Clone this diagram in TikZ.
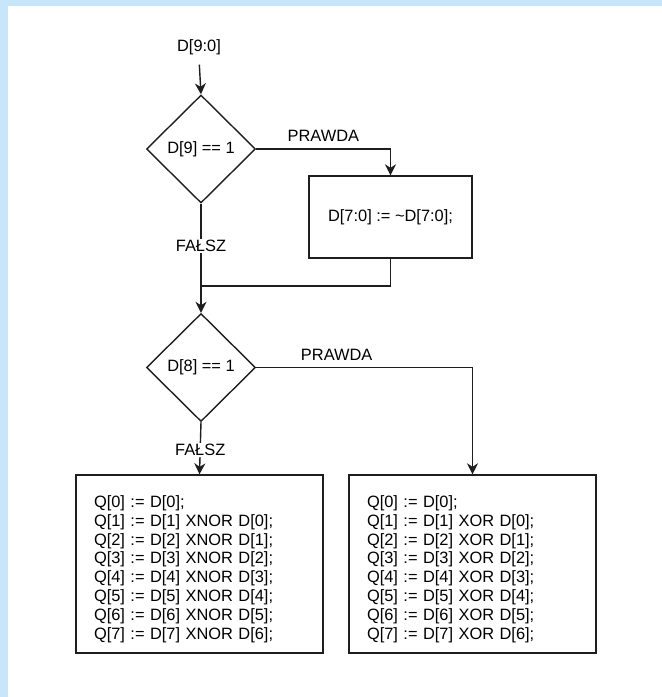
\documentclass[tikz,border=0pt]{standalone}
\usepackage{fontspec}
\setmainfont{Liberation Sans}
\usetikzlibrary{shapes.geometric, arrows.meta, positioning}
\usepackage{xcolor}
\definecolor{frameblue}{RGB}{200,230,249}
\definecolor{ink}{RGB}{30,30,30}

\begin{document}
\begin{tikzpicture}[x=1pt, y=1pt, >={Stealth[length=11pt, width=11pt, inset=3.5pt]},
    line width=1.4pt, font=\fontsize{16.4}{18.8}\selectfont,
    decision/.style={diamond, draw=ink, aspect=1, inner sep=0pt, minimum width=109pt, minimum height=108pt},
    process/.style={rectangle, draw=ink, align=left},
    flow/.style={->, draw=ink},
    branch/.style={inner sep=1pt, fill=white}]
    % background frame
    \useasboundingbox (0,0) rectangle (662,-697);
    \fill[frameblue] (0,0) rectangle (662,-697);
    \fill[white] (8,-6) rectangle (662,-697);

    \node (input) at (199,-47) {D[9:0]};
    \node[decision] (test9) at (201,-149) {D[9] == 1};
    \node[process, minimum width=163pt, minimum height=82pt, align=center] (invert) at (390.5,-217) {D[7:0] := \textasciitilde D[7:0];};
    \coordinate (join) at (201,-286);
    \node[decision] (test8) at (201,-367.5) {D[8] == 1};

    \node[process, text width=211pt, inner xsep=18pt, minimum height=178pt] (xnor) at (199.5,-564) {%
        \rule{0pt}{22pt}Q[0] := D[0];\\
        Q[1] := D[1] XNOR D[0];\\
        Q[2] := D[2] XNOR D[1];\\
        Q[3] := D[3] XNOR D[2];\\
        Q[4] := D[4] XNOR D[3];\\
        Q[5] := D[5] XNOR D[4];\\
        Q[6] := D[6] XNOR D[5];\\
        Q[7] := D[7] XNOR D[6];};
    \node[process, text width=211pt, inner xsep=18pt, minimum height=178pt] (xor) at (472.5,-564) {%
        \rule{0pt}{22pt}Q[0] := D[0];\\
        Q[1] := D[1] XOR D[0];\\
        Q[2] := D[2] XOR D[1];\\
        Q[3] := D[3] XOR D[2];\\
        Q[4] := D[4] XOR D[3];\\
        Q[5] := D[5] XOR D[4];\\
        Q[6] := D[6] XOR D[5];\\
        Q[7] := D[7] XOR D[6];};

    \draw[flow, shorten <=6pt] (input.south) -- (test9.north);
    \draw[flow] (test9.east) -| node[pos=0.25, above=3pt] {PRAWDA} (invert.north);
    \draw[flow] (test9.south) -- node[pos=0.39, branch] {FAŁSZ} (test8.north);
    \draw[draw=ink] (invert.south) |- (join);
    \draw[flow] (test8.east) -| node[pos=0.186, above=3pt] {PRAWDA} (xor.north);
    \draw[flow] (test8.south) -- node[pos=0.53, branch] {FAŁSZ} (xnor.north);
\end{tikzpicture}
\end{document}
